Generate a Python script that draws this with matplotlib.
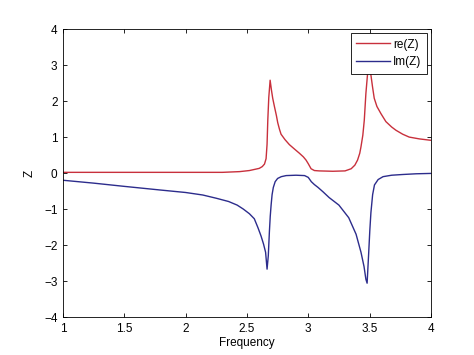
import matplotlib
matplotlib.use("Agg")
import matplotlib.pyplot as plt

re_f = [1.0, 2.0, 2.3, 2.44, 2.52, 2.56, 2.6, 2.625, 2.643, 2.656, 2.664, 2.67, 2.678,
        2.689, 2.70, 2.71, 2.724, 2.74, 2.751, 2.765, 2.778, 2.81, 2.846, 2.89, 2.928,
        2.96, 2.982, 3.0, 3.023, 3.05, 3.09, 3.2, 3.3, 3.35, 3.38, 3.402, 3.42, 3.43,
        3.445, 3.457, 3.47, 3.484, 3.497, 3.51, 3.524, 3.538, 3.56, 3.593, 3.633, 3.68,
        3.715, 3.77, 3.823, 3.905, 4.0]
re_z = [0.02, 0.02, 0.02, 0.04, 0.07, 0.10, 0.13, 0.18, 0.25, 0.4, 0.8, 1.47, 2.1,
        2.58, 2.3, 2.08, 1.85, 1.6, 1.4, 1.22, 1.08, 0.93, 0.79, 0.66, 0.55,
        0.45, 0.36, 0.26, 0.12, 0.07, 0.06, 0.05, 0.06, 0.12, 0.22, 0.36, 0.55, 0.73,
        1.05, 1.47, 2.21, 2.77, 3.0, 2.75, 2.40, 2.08, 1.85, 1.65, 1.43, 1.28,
        1.19, 1.08, 1.0, 0.95, 0.91]

im_f = [1.0, 1.25, 1.5, 1.79, 2.0, 2.14, 2.25, 2.35, 2.42, 2.47, 2.52, 2.56, 2.59,
        2.615, 2.635, 2.652, 2.664, 2.674, 2.683, 2.69, 2.697, 2.705, 2.715, 2.73,
        2.75, 2.78, 2.82, 2.9, 2.97, 3.0, 3.025, 3.05, 3.08, 3.12, 3.17, 3.25, 3.33,
        3.39, 3.43, 3.455, 3.47, 3.48, 3.492, 3.502, 3.511, 3.525, 3.54, 3.57, 3.61,
        3.68, 3.77, 3.88, 4.0]
im_z = [-0.20, -0.28, -0.37, -0.47, -0.54, -0.61, -0.70, -0.79, -0.89, -1.0, -1.13, -1.27, -1.52,
        -1.75, -1.97, -2.2, -2.67, -2.3, -1.63, -1.2, -0.89, -0.6, -0.4, -0.24,
        -0.15, -0.1, -0.07, -0.06, -0.07, -0.12, -0.24, -0.32, -0.40, -0.52, -0.68, -0.89, -1.24,
        -1.7, -2.2, -2.6, -2.95, -3.06, -2.28, -1.6, -1.1, -0.6, -0.33, -0.18, -0.10,
        -0.06, -0.04, -0.02, -0.01]

x_ticks = [1, 1.5, 2, 2.5, 3, 3.5, 4]
y_ticks = [-4, -3, -2, -1, 0, 1, 2, 3, 4]

plt.rcParams['font.family'] = ['Liberation Sans', 'DejaVu Sans']
plt.rcParams['font.size'] = 8.5

fig = plt.figure(figsize=(4.74, 3.55), dpi=100)
ax = fig.add_axes([0.133, 0.107, 0.776, 0.811])
ax.plot(re_f, re_z, color='#c8303c', lw=1.0, label='re(Z)')
ax.plot(im_f, im_z, color='#2c2c8c', lw=1.0, label='Im(Z)')
ax.set_xlim(1, 4)
ax.set_ylim(-4, 4)
ax.set_xticks(x_ticks)
ax.set_xticklabels([f"{t:g}" for t in x_ticks])
ax.set_yticks(y_ticks)
ax.tick_params(direction='in', top=True, right=True, length=3, width=0.6, pad=4)
for s in ax.spines.values():
    s.set_linewidth(0.6)
ax.set_xlabel('Frequency', labelpad=2)
ax.set_ylabel('Z', labelpad=6)
leg = ax.legend(loc='upper right', fancybox=False, framealpha=1, edgecolor='black',
                borderaxespad=0.35, handlelength=2.8, handletextpad=0.3,
                borderpad=0.45, labelspacing=0.5, fontsize=8.5)
leg.get_frame().set_linewidth(0.6)
fig.savefig('out.png', dpi=100)
